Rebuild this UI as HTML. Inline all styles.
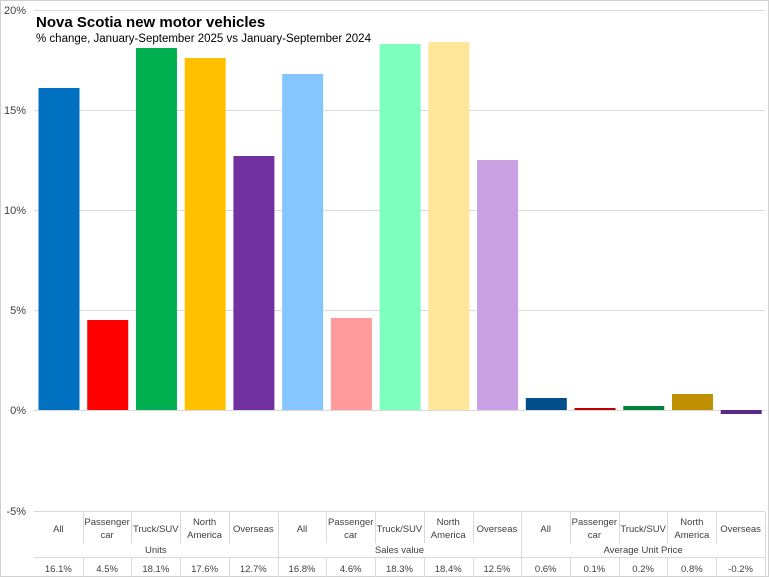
<!DOCTYPE html>
<html><head><style>
html,body{margin:0;padding:0;background:#fff}
svg{display:block;font-family:"Liberation Sans",sans-serif}
</style></head><body>
<svg width="769" height="577" viewBox="0 0 769 577">
<rect x="0.5" y="0.5" width="768" height="576" fill="#fff" stroke="#d0d0d0"/>
<g stroke="#d9d9d9" stroke-width="1">
<line x1="34" x2="765" y1="10.5" y2="10.5"/>
<line x1="34" x2="765" y1="110.5" y2="110.5"/>
<line x1="34" x2="765" y1="210.5" y2="210.5"/>
<line x1="34" x2="765" y1="310.5" y2="310.5"/>
<line x1="34" x2="765" y1="410.5" y2="410.5"/>
<line x1="34" x2="765" y1="511.5" y2="511.5"/>
</g>
<g font-size="11" fill="#404040" text-anchor="end">
<text x="26" y="14">20%</text><text x="26" y="114">15%</text><text x="26" y="214">10%</text>
<text x="26" y="314">5%</text><text x="26" y="414">0%</text><text x="26" y="515">-5%</text>
</g>
<text x="36" y="27" font-size="15" font-weight="bold" fill="#000">Nova Scotia new motor vehicles</text>
<text x="36" y="42" font-size="11.5" fill="#000">% change, January-September  2025 vs January-September  2024</text>
<g id="bars"></g>
<g id="tbl" font-size="9.5" fill="#404040" text-anchor="middle"></g>
</svg>
<script>
var vals=[16.1,4.5,18.1,17.6,12.7,16.8,4.6,18.3,18.4,12.5,0.6,0.1,0.2,0.8,-0.2];
var cols=["#0070C0","#FF0000","#00B050","#FFC000","#7030A0","#85C6FF","#FF9B9B","#7DFFBD","#FFE699","#C9A0E2","#004E8C","#C00000","#00803A","#BF9000","#5B2A86"];
var labs=[["All"],["Passenger","car"],["Truck/SUV"],["North","America"],["Overseas"]];
var ns="http://www.w3.org/2000/svg",b=document.getElementById("bars"),t=document.getElementById("tbl");
function el(p,n,a,txt){var e=document.createElementNS(ns,n);for(var k in a)e.setAttribute(k,a[k]);if(txt!=null)e.textContent=txt;p.appendChild(e);return e;}
var x0=34,w=48.73;
for(var i=0;i<15;i++){
 var v=vals[i],y=410-v*20,h=Math.abs(v*20);
 el(b,"rect",{x:x0+i*w+4.5,y:v>=0?y:410,width:41,height:Math.max(h,1.5),fill:cols[i]});
 var cx=x0+i*w+w/2,l=labs[i%5];
 if(l.length==1)el(t,"text",{x:cx,y:532},l[0]);else{el(t,"text",{x:cx,y:525},l[0]);el(t,"text",{x:cx,y:538},l[1]);}
 el(t,"text",{x:cx,y:572},(v.toFixed(1))+"%");
}
var g=document.createElementNS(ns,"g");g.setAttribute("stroke","#d9d9d9");b.parentNode.appendChild(g);
for(var i=1;i<=15;i++){var x=Math.round(x0+i*w)+0.5;
 el(g,"line",{x1:x,x2:x,y1:512,y2:543});el(g,"line",{x1:x,x2:x,y1:558,y2:577});
 if(i%5==0)el(g,"line",{x1:x,x2:x,y1:543,y2:558});}
el(g,"line",{x1:34,x2:765,y1:557.5,y2:557.5});
var gl=["Units","Sales value","Average Unit Price"];
for(var j=0;j<3;j++)el(t,"text",{x:x0+(j*5+2.5)*w,y:553},gl[j]);
</script>
</body></html>
